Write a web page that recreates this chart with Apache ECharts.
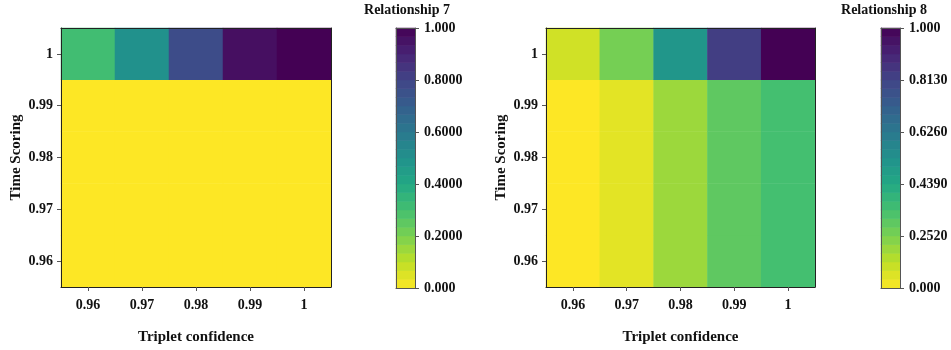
<!DOCTYPE html>
<html>
<head>
<meta charset="utf-8">
<script src="https://cdn.jsdelivr.net/npm/echarts@6/dist/echarts.min.js"></script>
<style>
  html, body { margin: 0; padding: 0; background: #fff; }
  #chart { width: 951px; height: 350px; }
</style>
</head>
<body>
<div id="chart"></div>
<script>
// Axis categories
const tripletConfidence = ['0.96', '0.97', '0.98', '0.99', '1'];
const timeScoring = ['0.96', '0.97', '0.98', '0.99', '1'];

// Relationship 7: one row per Time Scoring value (bottom to top), one entry per Triplet confidence
const rel7Row096 = [0, 0, 0, 0, 0];
const rel7Row097 = [0, 0, 0, 0, 0];
const rel7Row098 = [0, 0, 0, 0, 0];
const rel7Row099 = [0, 0, 0, 0, 0];
const rel7Row100 = [0.31, 0.50, 0.77, 0.96, 1.0];

// Relationship 8
const rel8Row096 = [0, 0.04, 0.15, 0.25, 0.30];
const rel8Row097 = [0, 0.04, 0.15, 0.25, 0.30];
const rel8Row098 = [0, 0.04, 0.15, 0.25, 0.30];
const rel8Row099 = [0, 0.04, 0.15, 0.25, 0.30];
const rel8Row100 = [0.07, 0.21, 0.48, 0.82, 1.0];

// Colorbar tick labels
const cb7Labels = ['0.000', '0.2000', '0.4000', '0.6000', '0.8000', '1.000'];
const cb8Labels = ['0.000', '0.2520', '0.4390', '0.6260', '0.8130', '1.000'];
const colorLevels = 30;

// viridis, reversed (low values yellow, high values purple)
const viridisR = ['#fde725', '#bddf26', '#7ad151', '#44bf70', '#22a884', '#21918c',
                  '#2a788e', '#355f8d', '#414487', '#482475', '#440154'];

function toCells(rows) {
  const out = [];
  rows.forEach((row, yi) => row.forEach((v, xi) => out.push([xi, yi, v])));
  return out;
}
const rel7 = toCells([rel7Row096, rel7Row097, rel7Row098, rel7Row099, rel7Row100]);
const rel8 = toCells([rel8Row096, rel8Row097, rel8Row098, rel8Row099, rel8Row100]);

const bandCats = Array.from({ length: colorLevels }, (_, i) => String(i));
const bandCells = bandCats.map((_, i) => [0, i, (i + 0.5) / colorLevels]);

const FONT = '"Liberation Serif", "Times New Roman", serif';
const lineStyle = { color: '#222', width: 1 };
const nameStyle = { color: '#111', fontFamily: FONT, fontWeight: 'bold', fontSize: 15 };

function mainX(grid, withLabels) {
  return {
    type: 'category', gridIndex: grid, data: tripletConfidence, z: 10,
    position: withLabels ? 'bottom' : 'top',
    axisLine: { show: true, onZero: false, lineStyle },
    axisTick: { show: withLabels, alignWithLabel: true, length: 4, lineStyle: { color: '#555' } },
    axisLabel: { show: withLabels, margin: 11, color: '#111', fontFamily: FONT, fontWeight: 'bold', fontSize: 14 },
    splitLine: { show: false },
    name: withLabels ? 'Triplet confidence' : '',
    nameLocation: 'middle', nameGap: 43,
    nameTextStyle: nameStyle
  };
}
function mainY(grid, withLabels) {
  return {
    type: 'category', gridIndex: grid, data: timeScoring, z: 10,
    position: withLabels ? 'left' : 'right',
    axisLine: { show: true, onZero: false, lineStyle },
    axisTick: { show: withLabels, alignWithLabel: true, length: 4, lineStyle: { color: '#555' } },
    axisLabel: { show: withLabels, margin: 8, color: '#111', fontFamily: FONT, fontWeight: 'bold', fontSize: 14 },
    splitLine: { show: false },
    name: withLabels ? 'Time Scoring' : '',
    nameLocation: 'middle', nameGap: 37,
    nameTextStyle: nameStyle
  };
}
function barX(grid, pos) {
  return {
    type: 'category', gridIndex: grid, data: [''], z: 10, position: pos,
    axisLine: { show: true, onZero: false, lineStyle: { color: '#555', width: 1 } },
    axisTick: { show: false }, axisLabel: { show: false }, splitLine: { show: false }
  };
}
function barBandY(grid) {
  return {
    type: 'category', gridIndex: grid, data: bandCats, z: 10, position: 'left',
    axisLine: { show: true, onZero: false, lineStyle: { color: '#555', width: 1 } },
    axisTick: { show: false }, axisLabel: { show: false }, splitLine: { show: false }
  };
}
function barValueY(grid, labels) {
  return {
    type: 'value', gridIndex: grid, min: 0, max: 1, interval: 0.2, z: 10, position: 'right',
    axisLine: { show: true, onZero: false, lineStyle: { color: '#555', width: 1 } },
    axisTick: { show: true, length: 4, lineStyle: { color: '#555' } },
    axisLabel: {
      margin: 9, color: '#111', fontFamily: FONT, fontWeight: 'bold', fontSize: 14,
      formatter: v => labels[Math.round(v / 0.2)]
    },
    splitLine: { show: false }
  };
}

const titleStyle = { color: '#111', fontFamily: FONT, fontWeight: 'bold', fontSize: 14 };

const chart = echarts.init(document.getElementById('chart'), null, { renderer: 'canvas' });
chart.setOption({
  animation: false,
  backgroundColor: '#fff',
  title: [
    { text: 'Relationship 7', left: 407, top: 3, padding: 0, textAlign: 'center', textStyle: titleStyle },
    { text: 'Relationship 8', left: 884, top: 3, padding: 0, textAlign: 'center', textStyle: titleStyle }
  ],
  grid: [
    { left: 61, top: 28, width: 270, height: 260 },
    { left: 396, top: 28, width: 19, height: 260 },
    { left: 546, top: 28, width: 269, height: 260 },
    { left: 881, top: 28, width: 19, height: 260 }
  ],
  xAxis: [
    mainX(0, true), mainX(0, false),
    barX(1, 'bottom'), barX(1, 'top'),
    mainX(2, true), mainX(2, false),
    barX(3, 'bottom'), barX(3, 'top')
  ],
  yAxis: [
    mainY(0, true), mainY(0, false),
    barBandY(1), barValueY(1, cb7Labels),
    mainY(2, true), mainY(2, false),
    barBandY(3), barValueY(3, cb8Labels)
  ],
  visualMap: {
    show: false, type: 'continuous', min: 0, max: 1,
    seriesIndex: [0, 1, 2, 3],
    inRange: { color: viridisR }
  },
  series: [
    { type: 'heatmap', name: 'Relationship 7', xAxisIndex: 0, yAxisIndex: 0, data: rel7, itemStyle: { borderWidth: 0 } },
    { type: 'heatmap', name: 'cb7', xAxisIndex: 2, yAxisIndex: 2, data: bandCells, itemStyle: { borderWidth: 0 } },
    { type: 'heatmap', name: 'Relationship 8', xAxisIndex: 4, yAxisIndex: 4, data: rel8, itemStyle: { borderWidth: 0 } },
    { type: 'heatmap', name: 'cb8', xAxisIndex: 6, yAxisIndex: 6, data: bandCells, itemStyle: { borderWidth: 0 } }
  ]
});
</script>
</body>
</html>
